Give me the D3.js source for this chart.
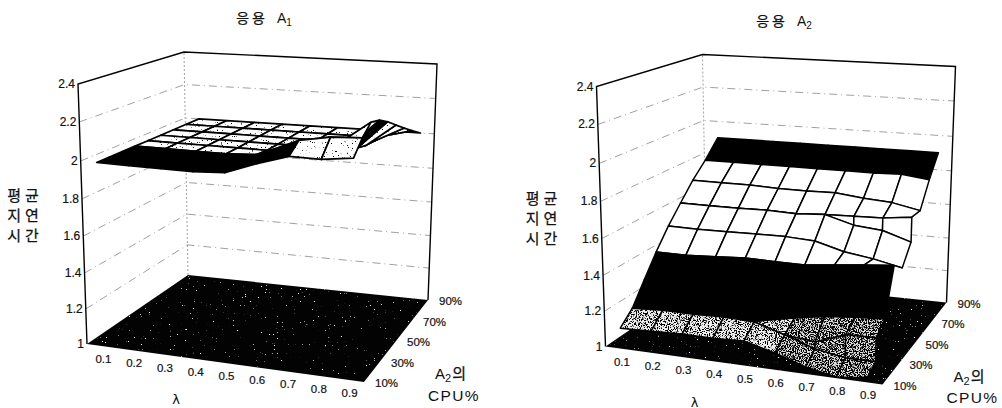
<!DOCTYPE html>
<html lang="ko">
<head>
<meta charset="UTF-8" />
<title>응용 A1, A2 평균 지연 시간</title>
<script src="https://d3js.org/d3.v7.min.js"></script>
<style>
  html, body { margin: 0; background: #fff; }
  svg { display: block; }
  text { fill: #111; font-family: "Liberation Sans", sans-serif; }
  .kr { font-family: "Noto Sans CJK KR", sans-serif; stroke: #111; stroke-width: 0.25px; }
  .tick { font-size: 11.5px; stroke: #111; stroke-width: 0.2px; }
  .grid { fill: none; stroke: #777; stroke-width: 0.7; stroke-dasharray: 8,4,1,4; }
  .edge { fill: none; stroke: #000; stroke-width: 1.4; }
  .mesh { fill: none; stroke: #000; stroke-linejoin: round; }
</style>
</head>
<body>
<svg id="chart" width="1002" height="408"></svg>

<script>
const lambdas = [0.1, 0.2, 0.3, 0.4, 0.5, 0.6, 0.7, 0.8, 0.9];
const cpuTicks = [10, 30, 50, 70, 90];
const zTicks = [1, 1.2, 1.4, 1.6, 1.8, 2, 2.2, 2.4];

// A1: rows are A2 CPU 10..90, columns are lambda
const a1Cpu = [10, 20, 30, 40, 50, 60, 70, 80, 90];
const a1Delay = [
  [2, 2, 2, 2, 2.01, 2.07, 2.12, 2.12, 2.14],
  [2, 2, 2, 2, 2.02, 2.10, 2.17, 2.20, 2.21],
  [2, 2, 2, 2, 2.02, 2.06, 2.10, 2.14, 2.26],
  [2, 2, 2, 2, 2.01, 2.03, 2.06, 2.09, 2.24],
  [2, 2, 2, 2, 2, 2.01, 2.03, 2.05, 2.20],
  [2, 2, 2, 2, 2, 2, 2.01, 2.03, 2.15],
  [2, 2, 2, 2, 2, 2, 2.01, 2.02, 2.10],
  [2, 2, 2, 2, 2, 2, 2, 2.01, 2.05],
  [2, 2, 2, 2, 2, 2, 2, 2, 2]
];

// A2: the 20% and 60% rows fork after lambda 0.6, so they appear twice
const a2Cpu = [10, 20, 20, 30, 40, 50, 60, 60, 70, 80, 90];
const a2Delay = [
  [1.116, 1.122, 1.129, 1.129, 1.136, 1.092, 1.038, 1.007, 1.025],
  [1.183, 1.194, 1.193, 1.198, 1.192, 1.141, 1.085, 1.057, 1.058],
  [1.183, 1.194, 1.193, 1.198, 1.192, 1.141, 1.124, 1.185, 1.190],
  [1.30, 1.30, 1.31, 1.31, 1.15, 1.186, 1.215, 1.23, 1.24],
  [1.418, 1.418, 1.427, 1.438, 1.435, 1.435, 1.453, 1.47, 1.485],
  [1.525, 1.524, 1.527, 1.53, 1.532, 1.524, 1.48, 1.457, 1.424],
  [1.62, 1.62, 1.62, 1.625, 1.62, 1.63, 1.585, 1.57, 1.52],
  [1.62, 1.62, 1.62, 1.625, 1.62, 1.63, 1.635, 1.64, 1.66],
  [1.717, 1.715, 1.716, 1.71, 1.71, 1.713, 1.695, 1.684, 1.652],
  [1.8, 1.8, 1.8, 1.8, 1.8, 1.8, 1.8, 1.805, 1.785],
  [1.9, 1.9, 1.9, 1.9, 1.9, 1.9, 1.9, 1.9, 1.9]
];

// scales: lambda and cpu go to 0..1 across the box, delay to 0..1 up the box
const uScale = d3.scaleLinear().domain([0.05, 0.95]).range([0, 1]);
const vScale = d3.scaleLinear().domain([10, 90]).range([0, 1]);
const zScale = d3.scaleLinear().domain(zTicks).range([0, .135, .273, .415, .558, .704, .854, 1]);

// box corners on screen: front left, front right, back left, back right
const floorBox = [[87, 344], [364, 382], [188, 275], [428, 300]];
const topBox = [[78, 84], [371, 107], [184, 52], [437, 64]];

function bilerp(box, u, v) {
  return [0, 1].map(i =>
    (1 - v) * ((1 - u) * box[0][i] + u * box[1][i]) + v * ((1 - u) * box[2][i] + u * box[3][i]));
}
function boxPoint(u, v, f) {
  const a = bilerp(floorBox, u, v), b = bilerp(topBox, u, v);
  return [a[0] + f * (b[0] - a[0]), a[1] + f * (b[1] - a[1])];
}
const project = (l, c, z) => boxPoint(uScale(l), vScale(c), zScale(z));
const line = d3.line();

const svg = d3.select("#chart");
const defs = svg.append("defs");

// scanned halftone look: dots thrown over a fill by a noise filter
function grainFilter(id, freq, gain, cut, color) {
  const fl = defs.append("filter").attr("id", id)
    .attr("x", 0).attr("y", 0).attr("width", 1).attr("height", 1)
    .attr("color-interpolation-filters", "sRGB");
  fl.append("feTurbulence").attr("type", "fractalNoise")
    .attr("baseFrequency", freq).attr("numOctaves", 2).attr("seed", 4);
  fl.append("feColorMatrix").attr("values",
    `0 0 0 0 ${color}  0 0 0 0 ${color}  0 0 0 0 ${color}  ${gain} 0 0 0 ${cut}`).attr("result", "dots");
  fl.append("feComposite").attr("in", "dots").attr("in2", "SourceAlpha").attr("operator", "in").attr("result", "clipped");
  const m = fl.append("feMerge");
  m.append("feMergeNode").attr("in", "SourceGraphic");
  m.append("feMergeNode").attr("in", "clipped");
}
grainFilter("grainLight", 0.8, 12, -8.2, 0);
grainFilter("grainMid", 0.9, 12, -6.1, 0);
grainFilter("grainDark", 0.9, 12, -5.4, 0);
grainFilter("speckle", 0.75, 14, -10.4, 1);

function drawPanel(g, cpu, delay, cellStyle, meshWidth) {
  // walls
  zTicks.slice(1, -1).forEach(z => {
    g.append("path").attr("class", "grid")
      .attr("d", line([boxPoint(0, 0, zScale(z)), boxPoint(0, 1, zScale(z)), boxPoint(1, 1, zScale(z))]));
  });
  g.append("path").attr("class", "grid").style("stroke-dasharray", "2,2")
    .attr("d", line([boxPoint(0, 1, 0), boxPoint(0, 1, 1)]));
  g.append("path").attr("class", "edge")
    .attr("d", line([boxPoint(0, 0, 0), boxPoint(0, 0, 1), boxPoint(0, 1, 1), boxPoint(1, 1, 1), boxPoint(1, 1, 0)]));

  // floor
  g.append("path").attr("fill", "#030303").attr("filter", "url(#speckle)")
    .attr("d", line([boxPoint(0, 0, 0), boxPoint(1, 0, 0), boxPoint(1, 1, 0), boxPoint(0, 1, 0)]) + "Z");

  // surface cells, back to front
  for (let i = cpu.length - 2; i >= 0; i--) {
    lambdas.slice(0, -1).forEach((l, k) => {
      const pts = [
        project(l, cpu[i], delay[i][k]),
        project(lambdas[k + 1], cpu[i], delay[i][k + 1]),
        project(lambdas[k + 1], cpu[i + 1], delay[i + 1][k + 1]),
        project(l, cpu[i + 1], delay[i + 1][k])
      ];
      const d = line(pts) + "Z";
      const s = cellStyle(i, k);
      g.append("path").attr("d", d).attr("fill", s.fill).attr("filter", s.filter || null);
      g.append("path").attr("class", "mesh").attr("d", d).attr("stroke-width", meshWidth);
    });
  }

  // tick labels
  zTicks.forEach(z => {
    const q = boxPoint(0, 0, zScale(z));
    g.append("text").attr("class", "tick").style("font-size", "12px").attr("x", q[0] - 3).attr("y", q[1] + 4)
      .attr("text-anchor", "end").text(z);
  });
  lambdas.forEach(l => {
    const p = project(l, 10, 1);
    g.append("text").attr("class", "tick").attr("x", p[0] + 1).attr("y", p[1] + 17)
      .attr("text-anchor", "middle").text(l);
  });
  cpuTicks.forEach(c => {
    const q = boxPoint(1, vScale(c), 0);
    g.append("text").attr("class", "tick").attr("x", q[0] + 11).attr("y", q[1] + 5).text(c + "%");
  });

  // axis names
  [["평균", 201], ["지연", 221], ["시간", 241]].forEach(([t, y]) => {
    g.append("text").attr("class", "kr").attr("x", 25).attr("y", y)
      .attr("text-anchor", "middle").attr("font-size", 15).attr("letter-spacing", 4).text(t);
  });
  g.append("text").attr("x", 176).attr("y", 404).attr("text-anchor", "middle")
    .attr("font-size", 13).style("font-family", "DejaVu Sans").text("λ");
  const a2 = g.append("text").attr("x", 435).attr("y", 379).attr("font-size", 15);
  a2.append("tspan").text("A");
  a2.append("tspan").attr("font-size", 11).attr("dy", 3).text("2");
  a2.append("tspan").attr("class", "kr").attr("dy", -3).attr("dx", 1).text("의");
  g.append("text").attr("x", 428).attr("y", 400.5).attr("font-size", 15.5).attr("letter-spacing", 1.3).text("CPU%");
}

function drawTitle(x, y, sub) {
  const t = svg.append("text").attr("x", x).attr("y", y).attr("text-anchor", "middle").attr("font-size", 14);
  t.append("tspan").attr("class", "kr").attr("letter-spacing", 3).text("응용 ");
  t.append("tspan").attr("dx", 2).text("A");
  t.append("tspan").attr("font-size", 10).attr("dy", 3).text(sub);
}

const a1Style = (i, k) => {
  if (i < 3 && k < 6) return { fill: "#000" };
  if (i === 3 && k === 7) return { fill: "#000" };
  return { fill: "#fff", filter: "url(#grainLight)" };
};
const a2Style = (i, k) => {
  if (i === 9 || i === 3) return { fill: "#000" };
  if (i === 2 && k < 4) return { fill: "#000" };
  if (i > 3) return { fill: "#fff" };
  return { fill: k < 5 ? "#eee" : "#ddd", filter: k < 5 ? "url(#grainMid)" : "url(#grainDark)" };
};

drawPanel(svg.append("g"), a1Cpu, a1Delay, a1Style, 1.7);
drawPanel(svg.append("g").attr("transform", "translate(518.5,2.5)"), a2Cpu, a2Delay, a2Style, 1.5);
drawTitle(264, 23, "1");
drawTitle(784, 26, "2");
</script>
</body>
</html>
